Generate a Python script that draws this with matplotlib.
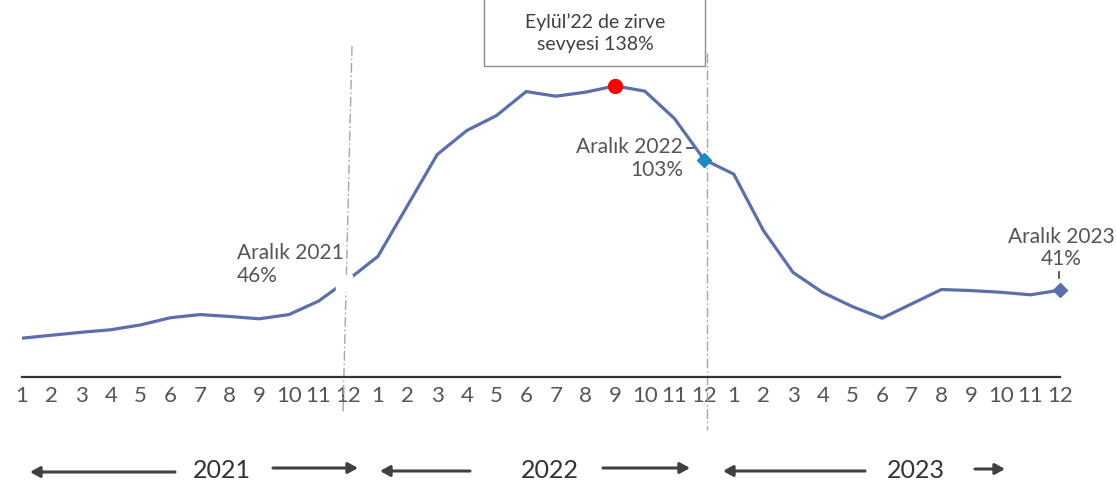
import matplotlib
matplotlib.use("Agg")
import matplotlib.pyplot as plt
from matplotlib.patches import Rectangle, FancyArrowPatch
from matplotlib.lines import Line2D
import numpy as np

# ---------------- data ----------------
years = ["2021", "2022", "2023"]
months = list(range(1, 13))
values_2021 = [18.2, 19.6, 21.0, 22.2, 24.5, 27.9, 29.4, 28.5, 27.4, 29.4, 35.8, 46.0]
values_2022 = [57.0, 81.2, 105.4, 116.8, 123.9, 135.3, 133.1, 135.0, 138.0, 135.5, 122.5, 103.0]
values_2023 = [96.1, 69.3, 49.4, 39.9, 33.2, 27.7, 34.5, 41.3, 40.8, 40.0, 38.8, 41.0]
tick_labels = [str(m) for m in months] * 3

peak_text = "Eylül\u201922 de zirve\nsevyesi 138%"
label_2021 = "Aralık 2021\n46%"
label_2022 = "Aralık 2022\n103%"
label_2023 = "Aralık 2023\n41%"

values = values_2021 + values_2022 + values_2023
x = np.arange(len(values))

# ---------------- style ----------------
W, H = 1116, 484
FONT = ["Lato", "DejaVu Sans"]
plt.rcParams["font.family"] = FONT
LINE_C = "#5B6FAE"
TXT_C = "#404040"
LBL_C = "#555555"

fig = plt.figure(figsize=(W / 100, H / 100), dpi=100)

def fx(px):
    return px / W

def fy(py):
    return 1 - py / H

axis_y = 376.5
px_per_unit = 2.106
ax = fig.add_axes([fx(22), fy(axis_y), (1060 - 22) / W, axis_y / H])
ax.set_xlim(0, len(values) - 1)
ax.set_ylim(0, axis_y / px_per_unit)
for s in ["top", "right", "left"]:
    ax.spines[s].set_visible(False)
ax.spines["bottom"].set_color("#333333")
ax.spines["bottom"].set_linewidth(1.6)
ax.set_yticks([])
ax.set_xticks(x)
ax.set_xticklabels(tick_labels, fontsize=16, color=LBL_C)
ax.tick_params(axis="x", length=0, pad=7)

# main line
ax.plot(x, values, color=LINE_C, lw=2.3, zorder=3, solid_joinstyle="miter")

i21 = 11
i22_peak = 12 + 8
i22 = 23
i23 = 35

# white gap at Dec 2021
ax.plot(x[i21] - 0.15, values[i21] - 1.5, marker="s", ms=11, color="white", zorder=4, clip_on=False)
# markers
ax.plot(x[i22_peak], values[i22_peak], marker="o", ms=10, color="#FF0000", zorder=5)
ax.plot(x[i22], values[i22], marker="D", ms=7, color="#1A8BC2", zorder=5)
ax.plot(x[i23], values[i23], marker="D", ms=7, color=LINE_C, zorder=5, clip_on=False)

# dash-dot vertical separators
dd = (0, (7, 2, 1.2, 2))
ax.add_line(Line2D([11.127, 10.824], [156.9, -17.3], color="#A6A6A6", lw=1.0,
                   linestyle=dd, clip_on=False, zorder=2))
ax.add_line(Line2D([23.1, 23.1], [153.6, -25.4], color="#A6A6A6", lw=1.0,
                   linestyle=dd, clip_on=False, zorder=2))

# annotations
ax.annotate(label_2021, xy=(x[i21], values[i21]), xytext=(-111, 15),
            textcoords="offset pixels", ha="left", va="center", fontsize=15,
            color=LBL_C, linespacing=1.15)
ax.annotate(label_2022, xy=(x[i22], values[i22]), xytext=(-21, 1),
            textcoords="offset pixels", ha="right", va="center", fontsize=15,
            color=LBL_C, multialignment="right", linespacing=1.15)
ax.annotate(label_2023, xy=(x[i23], values[i23]), xytext=(1, 42),
            textcoords="offset pixels", ha="center", va="center", fontsize=15,
            color=LBL_C, multialignment="center",
            linespacing=1.15, annotation_clip=False)

# small leader ticks
fig.add_artist(Line2D([fx(687), fx(693)], [fy(148), fy(148)], color="#404040", lw=1.2))
fig.add_artist(Line2D([fx(1059), fx(1059)], [fy(272), fy(278)], color="#404040", lw=1.2))

# peak box
fig.add_artist(Rectangle((fx(484), fy(66)), (705 - 484) / W, (66 + 5) / H,
                         transform=fig.transFigure, facecolor="white",
                         edgecolor="#8C8C8C", lw=1.0, zorder=6))
fig.text(fx(595), fy(33), peak_text, ha="center", va="center", fontsize=14,
         color=TXT_C, multialignment="center", linespacing=1.3, zorder=7)

# year labels and arrows
year_pos = [(222, 471), (550, 470), (916, 470)]
arrows = [((175, 472), (30, 472)), ((273, 468), (358, 468)),
          ((470, 471), (380, 471)), ((603, 468), (690, 468)),
          ((865, 471), (723, 471)), ((975, 469), (1005, 469))]
for yr, (px, py) in zip(years, year_pos):
    fig.text(fx(px), fy(py), yr, ha="center", va="center", fontsize=18, color="#333333")
for (x0, y0), (x1, y1) in arrows:
    fig.add_artist(FancyArrowPatch(
        (fx(x0), fy(y0)), (fx(x1), fy(y1)), transform=fig.transFigure,
        arrowstyle="-|>,head_length=3.6,head_width=2.0", color="#404040",
        lw=2.2, mutation_scale=1.6, shrinkA=0, shrinkB=0))

fig.savefig("out.png", dpi=100)
